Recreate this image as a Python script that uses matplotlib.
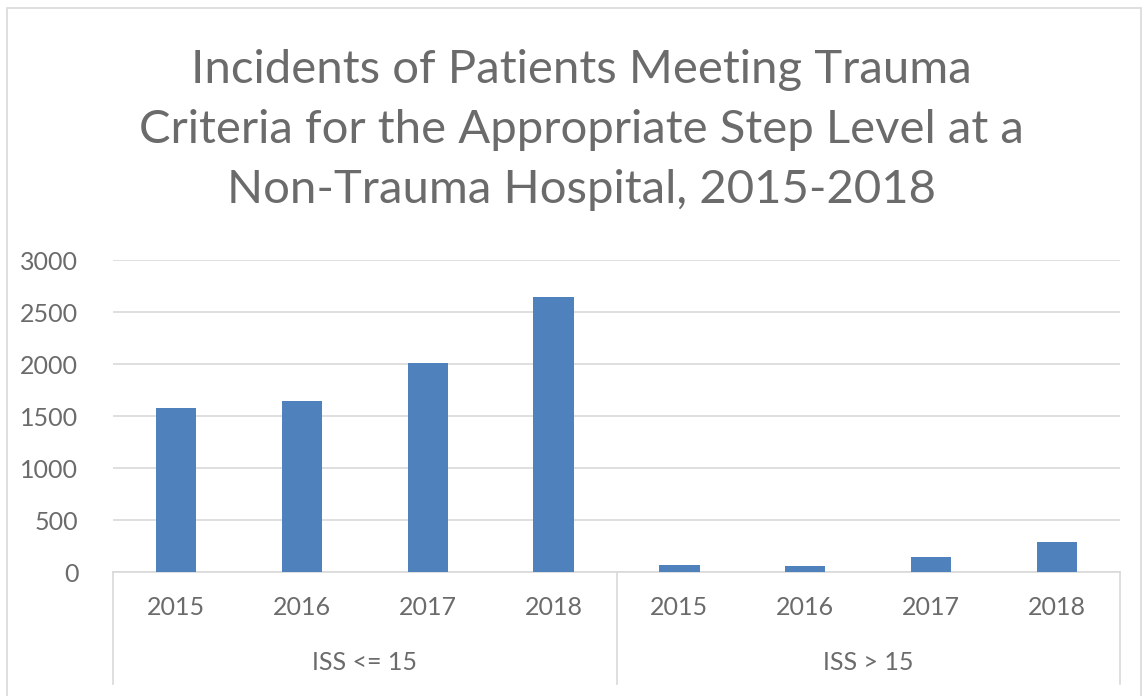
import matplotlib.pyplot as plt
from matplotlib.patches import Rectangle
from matplotlib.lines import Line2D

groups = ["ISS <= 15", "ISS > 15"]
years = ["2015", "2016", "2017", "2018"]
iss_low = [1580, 1645, 2015, 2645]
iss_high = [70, 55, 145, 285]

title = ("Incidents of Patients Meeting Trauma\n"
         "Criteria for the Appropriate Step Level at a\n"
         "Non-Trauma Hospital, 2015-2018")

grey = "#6b6b6b"
plt.rcParams["font.family"] = ["Lato", "DejaVu Sans"]

fig = plt.figure(figsize=(11.44, 6.96), dpi=100)
ax = fig.add_axes([0.0988, 0.178, 0.8802, 0.448])

values = iss_low + iss_high
x = list(range(len(values)))
ax.bar(x, values, width=0.32, color="#4F81BD", zorder=3)

ax.set_xlim(-0.5, len(values) - 0.5)
ax.set_ylim(0, 3000)
ax.set_yticks(range(0, 3001, 500))
ax.yaxis.grid(True, color="#d9d9d9", linewidth=1.2, zorder=0)
ax.tick_params(axis="y", length=0, pad=25, labelsize=18, labelcolor=grey)
ax.set_xticks([])
for side in ["top", "right", "left"]:
    ax.spines[side].set_visible(False)
ax.spines["bottom"].set_color("#d9d9d9")
ax.spines["bottom"].set_linewidth(1.2)

# two-level category axis
trans = ax.get_xaxis_transform()
for i, v in enumerate(x):
    ax.text(v, -0.115, years[i % 4], transform=trans, ha="center", va="center",
            fontsize=18, color=grey)
for g, name in enumerate(groups):
    ax.text(g * 4 + 1.5, -0.29, name, transform=trans, ha="center", va="center",
            fontsize=18, color=grey)
for xv in [-0.5, 3.5, 7.5]:
    ax.add_line(Line2D([xv, xv], [0, -0.36], transform=trans, color="#d9d9d9",
                       linewidth=1.2, clip_on=False))

fig.text(0.508, 0.813, title, ha="center", va="center", fontsize=34,
         color=grey, linespacing=1.52)

fig.add_artist(Rectangle((0.006, -0.01), 0.991, 0.998, transform=fig.transFigure,
                         fill=False, edgecolor="#d9d9d9", linewidth=1.2))

fig.savefig("out.png", dpi=100, facecolor="white")
